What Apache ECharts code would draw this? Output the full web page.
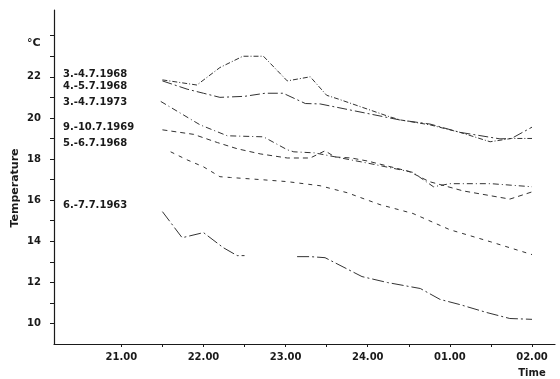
<!DOCTYPE html>
<html>
<head>
<meta charset="utf-8">
<script src="https://cdn.jsdelivr.net/npm/echarts@6/dist/echarts.min.js"></script>
<style>
  html, body { margin: 0; padding: 0; background: #fff; }
  #chart { width: 560px; height: 379px; }
</style>
</head>
<body>
<div id="chart"></div>
<script>
// Night-time temperature profiles; x is clock time in hours (24 = midnight, 25 = 01.00)
const nights = ['3.-4.7.1968', '4.-5.7.1968', '3.-4.7.1973', '9.-10.7.1969', '5.-6.7.1968', '6.-7.7.1963'];

const night1968a = [[21.5, 21.85], [21.92, 21.6], [22.2, 22.45], [22.48, 23.0], [22.73, 23.0], [23.02, 21.8],
  [23.3, 22.0], [23.5, 21.1], [23.64, 20.92], [24.27, 20.05], [24.4, 19.9], [24.76, 19.66], [25.12, 19.3],
  [25.49, 18.84], [25.75, 19.0], [26.0, 19.0]];
const night1968b = [[21.5, 21.8], [21.8, 21.4], [22.0, 21.2], [22.2, 21.0], [22.5, 21.05], [22.75, 21.2],
  [22.97, 21.2], [23.24, 20.7], [23.42, 20.68], [24.39, 19.9], [24.76, 19.7], [25.12, 19.3], [25.61, 18.98],
  [25.75, 19.0], [26.0, 19.55]];
const night1973 = [[21.48, 20.8], [21.96, 19.66], [22.29, 19.13], [22.73, 19.08], [23.02, 18.45], [23.1, 18.35],
  [23.35, 18.3], [24.0, 17.8], [24.55, 17.35], [24.8, 16.65], [25.0, 16.8], [25.5, 16.8], [26.0, 16.65]];
const night1969 = [[21.5, 19.42], [21.88, 19.2], [22.17, 18.8], [22.41, 18.5], [22.69, 18.25], [23.02, 18.05],
  [23.3, 18.05], [23.48, 18.4], [23.6, 18.1], [23.8, 18.05], [24.0, 17.9], [24.5, 17.4], [24.75, 16.9],
  [25.16, 16.45], [25.73, 16.05], [26.0, 16.4]];
const night1968c = [[21.6, 18.35], [21.8, 17.96], [22.0, 17.62], [22.2, 17.14], [22.33, 17.1], [22.69, 17.0],
  [23.02, 16.9], [23.42, 16.7], [23.75, 16.36], [24.15, 15.78], [24.55, 15.35], [25.0, 14.56], [25.49, 13.98],
  [26.0, 13.35]];
const night1963 = [[21.5, 15.44], [21.74, 14.17], [22.0, 14.42], [22.24, 13.69], [22.41, 13.3], [22.5, 13.3],
  [22.8, '-'], [23.14, 13.25], [23.3, 13.25], [23.48, 13.2], [23.93, 12.28], [24.24, 11.99], [24.64, 11.7],
  [24.88, 11.17], [25.12, 10.92], [25.45, 10.53], [25.73, 10.24], [26.0, 10.2]];

const timeTicks = [21, 22, 23, 24, 25, 26];
const timeTickLabels = ['21.00', '22.00', '23.00', '24.00', '01.00', '02.00'];
const timeMinorTicks = [21, 21.5, 22, 22.5, 23, 23.5, 24, 24.5, 25, 25.5, 26];
const tempTicks = [10, 12, 14, 16, 18, 20, 22];
const tempMinorTicks = [10, 11, 12, 13, 14, 15, 16, 17, 18, 19, 20, 21, 22, 23, 24];

const allNights = [night1968a, night1968b, night1973, night1969, night1968c, night1963];
const dashes = [[5, 2, 1, 2], [10, 3, 2, 3], [6, 3, 1, 3], [5, 4], [4, 5], [12, 3, 2, 3]];

const font = 'DejaVu Sans';
const ink = '#1a1a1a';
const chart = echarts.init(document.getElementById('chart'), null, { renderer: 'canvas' });

// Label column beside the y axis, one line of text per night
const labelRows = [75.5, 87.5, 103.5, 128, 144.5, 206.5];
const graphics = nights.map((name, i) => ({
  type: 'text', left: 63, top: labelRows[i] - 6,
  style: { text: name, font: 'bold 10px "' + font + '"', fill: ink }
}));
graphics.push(
  { type: 'text', left: 27, top: 38, style: { text: '°C', font: 'bold 11px "' + font + '"', fill: ink } },
  { type: 'text', x: 532, y: 373, style: { text: 'Time', font: 'bold 10px "' + font + '"', fill: ink, align: 'center', verticalAlign: 'middle' } },
  { type: 'text', x: 15, y: 188, rotation: Math.PI / 2,
    style: { text: 'Temperature', font: 'bold 11px "' + font + '"', fill: ink, align: 'center', verticalAlign: 'middle' } }
);

chart.setOption({
  animation: false,
  backgroundColor: '#fff',
  grid: { left: 54, right: 5, top: 10, bottom: 35 },
  xAxis: {
    type: 'value', min: 20.18, max: 26.28,
    splitLine: { show: false },
    axisLine: { show: true, onZero: false, lineStyle: { color: ink, width: 1.2 } },
    axisTick: { show: true, customValues: timeMinorTicks, length: 3, lineStyle: { color: ink } },
    axisLabel: {
      customValues: timeTicks, margin: 8, color: ink, fontFamily: font, fontWeight: 'bold', fontSize: 10,
      formatter: v => timeTickLabels[timeTicks.indexOf(Math.round(v))] || ''
    }
  },
  yAxis: {
    type: 'value', min: 9, max: 25.25,
    splitLine: { show: false },
    axisLine: { show: true, onZero: false, lineStyle: { color: ink, width: 1.2 } },
    axisTick: { show: true, customValues: tempMinorTicks, length: 4, lineStyle: { color: ink } },
    axisLabel: {
      customValues: tempTicks, margin: 13, color: ink, fontFamily: font, fontWeight: 'bold', fontSize: 10,
      formatter: v => String(v)
    }
  },
  series: allNights.map((d, i) => ({
    type: 'line', name: nights[i], data: d, showSymbol: false, symbol: 'none',
    connectNulls: false,
    lineStyle: { color: '#333', width: 1, type: dashes[i] }
  })),
  graphic: graphics
});
</script>
</body>
</html>
